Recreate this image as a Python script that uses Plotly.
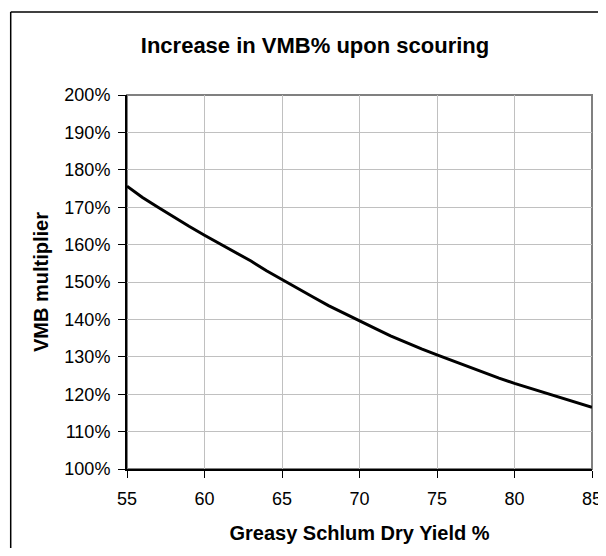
import plotly.graph_objects as go

yield_pct = [55, 56, 57, 58, 59, 60, 61, 62, 63, 64, 65, 66, 67, 68, 69, 70,
             71, 72, 73, 74, 75, 76, 77, 78, 79, 80, 81, 82, 83, 84, 85]
vmb_multiplier = [1.756, 1.726, 1.700, 1.674, 1.649, 1.625, 1.602, 1.579, 1.556, 1.530,
                  1.506, 1.483, 1.460, 1.437, 1.416, 1.396, 1.376, 1.356, 1.338, 1.321,
                  1.305, 1.289, 1.273, 1.258, 1.243, 1.229, 1.216, 1.203, 1.191, 1.178, 1.165]
x_ticks = [55, 60, 65, 70, 75, 80, 85]
y_ticks = [1.0, 1.1, 1.2, 1.3, 1.4, 1.5, 1.6, 1.7, 1.8, 1.9, 2.0]

FONT = "Liberation Sans, Arial, sans-serif"

fig = go.Figure()
fig.add_trace(go.Scatter(x=yield_pct, y=vmb_multiplier, mode="lines",
                         line=dict(color="black", width=3), showlegend=False,
                         hoverinfo="skip"))

# page body has an 8px margin, so the figure is offset by 8px;
# keep the page from overflowing the 606x556 window
W, H = 598, 540
ml, mr, mt, mb = 119, 14, 87, 79

fig.update_layout(
    width=W, height=H,
    margin=dict(l=ml, r=mr, t=mt, b=mb, autoexpand=False),
    paper_bgcolor="white", plot_bgcolor="white",
    font=dict(family=FONT, color="black", size=18),
    title=dict(text="<b>Increase in VMB% upon scouring</b>",
               font=dict(family=FONT, size=22, color="black"),
               x=307 / W, xref="container", xanchor="center",
               y=1 - 37 / H, yref="container", yanchor="middle"),
    xaxis=dict(range=[55, 85], tickvals=x_ticks, ticktext=[str(v) for v in x_ticks],
               showgrid=True, gridcolor="#c0c0c0", gridwidth=1,
               showline=True, linecolor="black", linewidth=2,
               ticks="outside", ticklen=7, tickcolor="black", tickwidth=1,
               ticklabelstandoff=5,
               tickfont=dict(family=FONT, size=18, color="black"),
               zeroline=False, automargin=False,
               title=dict(text="<b>Greasy Schlum Dry Yield %</b>",
                          font=dict(family=FONT, size=20, color="black"),
                          standoff=18)),
    yaxis=dict(range=[1.0, 2.0], tickvals=y_ticks, tickformat=".0%",
               showgrid=True, gridcolor="#c0c0c0", gridwidth=1,
               showline=True, linecolor="black", linewidth=2,
               ticks="outside", ticklen=7, tickcolor="black", tickwidth=1,
               ticklabelstandoff=4,
               tickfont=dict(family=FONT, size=18, color="black"),
               zeroline=False, automargin=False,
               title=dict(text="<b>VMB multiplier</b>",
                          font=dict(family=FONT, size=20, color="black"),
                          standoff=10)),
)

# grey plot-area frame (top / right)
fig.add_shape(type="rect", xref="paper", yref="paper", x0=0, x1=1, y0=0, y1=1,
              line=dict(color="#808080", width=2), fillcolor="rgba(0,0,0,0)",
              layer="between")

# chart-area border: only its left and top edges fall inside the picture
pw = W - ml - mr
ph = H - mt - mb
bx0 = (2.7 - ml) / pw
by1 = (H - mb - 4) / ph
fig.add_shape(type="line", xref="paper", yref="paper",
              x0=bx0, x1=(W + 10 - ml) / pw, y0=by1, y1=by1,
              line=dict(color="black", width=1.5), layer="above")
fig.add_shape(type="line", xref="paper", yref="paper",
              x0=bx0, x1=bx0, y0=-(mb + 10) / ph, y1=by1,
              line=dict(color="black", width=1.5), layer="above")

fig.write_html("out.html")
